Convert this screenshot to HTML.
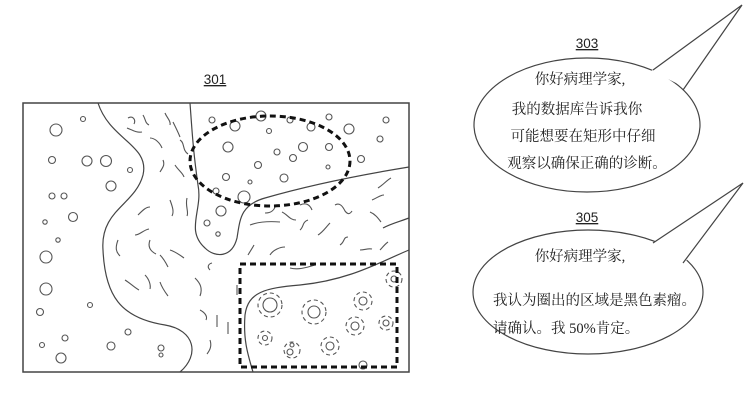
<!DOCTYPE html>
<html><head><meta charset="utf-8"><style>
html,body{margin:0;padding:0;background:#fff;}
svg{display:block}
.t{font-family:"Liberation Serif","Noto Serif CJK SC",serif;font-size:14.5px;fill:#222;text-anchor:middle}
.s{font-family:"Liberation Serif","Noto Serif CJK SC",serif;font-size:14.5px;fill:#222;text-anchor:start}
.n{font-family:"Liberation Sans",sans-serif;font-size:13.5px;fill:#222;text-anchor:middle;text-decoration:underline}
</style></head><body>
<svg width="754" height="410" viewBox="0 0 754 410" xmlns="http://www.w3.org/2000/svg">
<g fill="none" stroke="#444" stroke-width="1.2">
<rect x="23" y="103" width="386" height="269" stroke-width="1.5"/>
<path d="M98,103 C110,140 150,145 143,175 C135,205 100,210 103,250 C105,295 120,318 165,325 C195,330 200,355 180,372"/>
<path d="M190,103 C192,130 193,150 198,185 C203,210 185,230 205,248 C215,258 232,258 237,238 C240,220 240,205 265,198 C310,185 360,175 409,167"/>
<path d="M409,250 C380,262 350,280 300,285 C265,288 248,292 245,315 C243,340 248,355 253,372"/>
<path d="M409,218 C398,222 390,224 383,228"/>
</g>
<g fill="none" stroke="#555" stroke-width="1.1">
<circle cx="56" cy="130" r="6"/><circle cx="83" cy="119" r="2.5"/><circle cx="52" cy="160" r="3.5"/><circle cx="87" cy="161" r="5"/><circle cx="106" cy="161" r="5.5"/><circle cx="111" cy="186" r="5"/><circle cx="130" cy="170" r="2.5"/><circle cx="52" cy="196" r="3"/><circle cx="64" cy="196" r="3"/><circle cx="73" cy="217" r="4.5"/><circle cx="45" cy="222" r="2.2"/><circle cx="58" cy="240" r="2.2"/><circle cx="46" cy="257" r="6"/><circle cx="46" cy="289" r="6"/><circle cx="40" cy="312" r="3.5"/><circle cx="90" cy="305" r="2.5"/><circle cx="65" cy="338" r="3"/><circle cx="42" cy="345" r="2.5"/><circle cx="61" cy="358" r="5"/><circle cx="111" cy="346" r="4"/><circle cx="128" cy="332" r="3"/><circle cx="161" cy="348" r="3"/><circle cx="161" cy="355" r="2"/>
<circle cx="212" cy="120" r="3"/><circle cx="235" cy="126" r="5"/><circle cx="261" cy="116" r="5"/><circle cx="290" cy="120" r="3"/><circle cx="311" cy="127" r="4"/><circle cx="329" cy="117" r="3"/><circle cx="349" cy="129" r="5"/><circle cx="386" cy="120" r="3"/><circle cx="380" cy="139" r="3"/><circle cx="269" cy="131" r="2.5"/><circle cx="228" cy="147" r="5"/><circle cx="277" cy="152" r="3"/><circle cx="303" cy="147" r="4.5"/><circle cx="329" cy="147" r="3.5"/><circle cx="293" cy="158" r="3.5"/><circle cx="361" cy="159" r="3.5"/><circle cx="258" cy="165" r="3.5"/><circle cx="328" cy="167" r="2"/><circle cx="226" cy="177" r="3.5"/><circle cx="250" cy="182" r="2"/><circle cx="284" cy="178" r="4"/><circle cx="216" cy="191" r="3"/><circle cx="244" cy="197" r="6" /><circle cx="221" cy="211" r="5"/><circle cx="207" cy="223" r="3"/><circle cx="218" cy="234" r="2.2"/>
<circle cx="270" cy="305" r="7"/><circle cx="314" cy="312" r="6"/><circle cx="363" cy="301" r="4"/><circle cx="355" cy="326" r="4"/><circle cx="386" cy="323" r="3"/><circle cx="394" cy="279" r="3"/><circle cx="265" cy="338" r="2.5"/><circle cx="290" cy="352" r="3"/><circle cx="292" cy="345" r="2"/><circle cx="330" cy="346" r="4"/><circle cx="363" cy="365" r="4"/>
</g>
<g fill="none" stroke="#555" stroke-width="1.1" stroke-dasharray="4 3">
<circle cx="270" cy="305" r="12"/><circle cx="314" cy="312" r="12"/><circle cx="363" cy="301" r="9"/><circle cx="355" cy="326" r="9"/><circle cx="386" cy="323" r="7"/><circle cx="394" cy="279" r="8"/><circle cx="265" cy="338" r="7"/><circle cx="292" cy="350" r="8"/><circle cx="330" cy="346" r="9"/>
</g>
<g fill="none" stroke="#555" stroke-width="1.1">
<path d="M128,118 c5,-3 8,2 6,6"/><path d="M143,115 c3,5 2,8 6,10"/><path d="M165,113 c2,5 6,8 5,12"/><path d="M127,128 c5,2 10,5 15,4"/><path d="M150,138 c5,0 10,5 12,10"/><path d="M180,140 c5,3 2,10 8,14"/><path d="M173,122 c3,6 5,10 7,15"/><path d="M160,172 c3,-5 5,-7 3,-12"/><path d="M175,165 c3,5 8,8 9,12"/><path d="M138,215 c5,-5 8,-8 12,-8"/><path d="M170,200 c3,8 4,12 2,16"/><path d="M187,198 c-2,8 2,14 0,18"/><path d="M118,240 c-3,8 -2,12 2,16"/><path d="M135,235 c5,0 8,-5 14,-6"/><path d="M150,240 c-3,8 2,12 6,14"/><path d="M170,250 c6,2 10,5 14,8"/><path d="M160,255 c4,4 6,8 8,12"/><path d="M125,280 c5,3 10,8 14,10"/><path d="M145,275 c4,4 6,10 5,14"/><path d="M160,282 c2,6 5,10 8,14"/><path d="M195,278 c5,5 8,10 5,18"/><path d="M210,270 c-3,-3 -2,-6 2,-7"/><path d="M217,315 l0,12"/><path d="M228,322 l0,12"/><path d="M200,310 c4,2 8,6 6,10"/><path d="M210,340 c2,6 0,10 -3,14"/><path d="M237,285 l0,10"/>
<path d="M250,225 c8,-3 18,-4 30,-3"/><path d="M265,213 c6,0 9,-3 10,-6"/><path d="M282,212 c6,3 8,8 14,8"/><path d="M300,205 c6,-3 10,0 12,5"/><path d="M335,205 c5,-3 8,2 10,6 c3,4 5,3 7,0"/><path d="M372,200 c5,-2 8,-5 12,-5"/><path d="M378,188 c5,-3 9,-8 13,-10"/><path d="M370,212 c5,2 8,6 11,10"/><path d="M300,230 c4,-3 2,-8 8,-10"/><path d="M318,235 c5,-3 8,-8 12,-12"/><path d="M340,245 c5,-3 3,-8 8,-8"/><path d="M360,250 c5,0 8,-2 12,-1"/><path d="M380,250 c3,-3 5,-6 8,-8"/><path d="M248,255 c3,-5 5,-8 6,-10"/><path d="M270,255 c3,-5 10,-8 15,-8"/><path d="M290,268 c8,2 15,0 25,-3"/>
</g>
<ellipse cx="270" cy="161" rx="80" ry="45" fill="none" stroke="#111" stroke-width="3" stroke-dasharray="6 4"/>
<rect x="240" y="264" width="157" height="103" fill="none" stroke="#111" stroke-width="3" stroke-dasharray="6 4"/>
<text x="215" y="84" class="n">301</text>
<g stroke="#444" stroke-width="1.2">
<ellipse cx="587" cy="125" rx="113" ry="67" fill="#fff"/>
<polygon points="650,72 742,5 686,88 670,80" fill="#fff" stroke="none"/>
<polyline points="653,70 742,5 683,90" fill="none"/>
<ellipse cx="588" cy="292" rx="115" ry="62" fill="#fff"/>
<polygon points="650,245 743,183 686,261 670,252" fill="#fff" stroke="none"/>
<polyline points="653,243 743,183 683,263" fill="none"/>
</g>
<text x="587" y="48" class="n">303</text>
<text x="587" y="222" class="n">305</text>
<text x="580" y="84" class="t">你好病理学家,</text>
<text x="577" y="114" class="t">我的数据库告诉我你</text>
<text x="583" y="141" class="t">可能想要在矩形中仔细</text>
<text x="587" y="168" class="t">观察以确保正确的诊断。</text>
<text x="580" y="261" class="t">你好病理学家,</text>
<text x="493" y="305" class="s">我认为圈出的区域是黑色素瘤。</text>
<text x="493" y="333" class="s">请确认。我 50%肯定。</text>
</svg>
</body></html>
